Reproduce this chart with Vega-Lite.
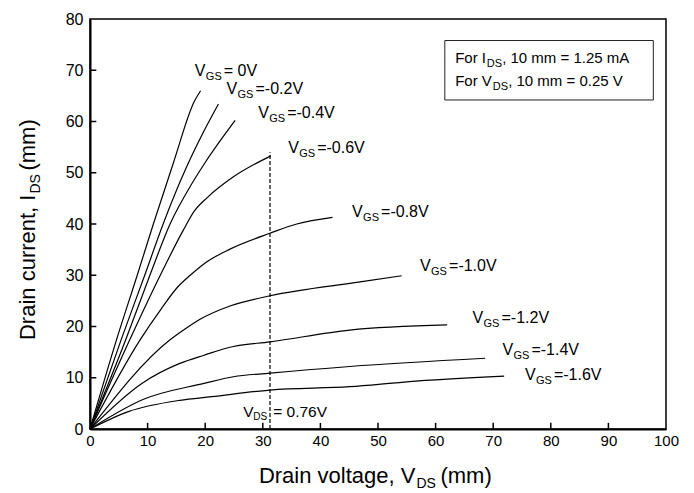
{
  "$schema": "https://vega.github.io/schema/vega-lite/v6.json",
  "width": 576,
  "height": 410,
  "autosize": {"type": "none"},
  "padding": {"left": 90, "top": 19, "right": 28, "bottom": 64},
  "background": "white",
  "config": {
    "view": {"stroke": "black", "strokeWidth": 1.5},
    "axis": {
      "grid": false,
      "domainColor": "black",
      "domainWidth": 2,
      "ticks": false,
      "labelColor": "black",
      "labelFont": "Liberation Sans",
      "labelFlush": false,
      "labelOverlap": false,
      "title": null
    }
  },
  "datasets": {
    "curves": [
      {"vgs": "0V", "x": 0, "y": 0}, {"vgs": "0V", "x": 4.6, "y": 17.4}, {"vgs": "0V", "x": 8.2, "y": 30}, {"vgs": "0V", "x": 11.0, "y": 40}, {"vgs": "0V", "x": 14.5, "y": 52}, {"vgs": "0V", "x": 18.1, "y": 63.9}, {"vgs": "0V", "x": 19.2, "y": 66.0},
      {"vgs": "-0.2V", "x": 0, "y": 0}, {"vgs": "-0.2V", "x": 5.4, "y": 17.4}, {"vgs": "-0.2V", "x": 9.5, "y": 30}, {"vgs": "-0.2V", "x": 12.7, "y": 40}, {"vgs": "-0.2V", "x": 16.8, "y": 51.2}, {"vgs": "-0.2V", "x": 19.5, "y": 57.5}, {"vgs": "-0.2V", "x": 22.3, "y": 63.4},
      {"vgs": "-0.4V", "x": 0, "y": 0}, {"vgs": "-0.4V", "x": 6.2, "y": 17.4}, {"vgs": "-0.4V", "x": 10.4, "y": 30}, {"vgs": "-0.4V", "x": 13.9, "y": 40}, {"vgs": "-0.4V", "x": 17.7, "y": 47.9}, {"vgs": "-0.4V", "x": 20.0, "y": 52.0}, {"vgs": "-0.4V", "x": 25.2, "y": 60.2},
      {"vgs": "-0.6V", "x": 0, "y": 0}, {"vgs": "-0.6V", "x": 6.9, "y": 17.4}, {"vgs": "-0.6V", "x": 12.2, "y": 30}, {"vgs": "-0.6V", "x": 16.2, "y": 38.8}, {"vgs": "-0.6V", "x": 18.1, "y": 42.5}, {"vgs": "-0.6V", "x": 20.4, "y": 45.2}, {"vgs": "-0.6V", "x": 24.9, "y": 49.2}, {"vgs": "-0.6V", "x": 31.4, "y": 53.3},
      {"vgs": "-0.8V", "x": 0, "y": 0}, {"vgs": "-0.8V", "x": 8.7, "y": 17.4}, {"vgs": "-0.8V", "x": 12.4, "y": 23.5}, {"vgs": "-0.8V", "x": 15.3, "y": 27.8}, {"vgs": "-0.8V", "x": 17.4, "y": 30}, {"vgs": "-0.8V", "x": 20, "y": 32.4}, {"vgs": "-0.8V", "x": 24.3, "y": 35.1}, {"vgs": "-0.8V", "x": 31.25, "y": 38.2}, {"vgs": "-0.8V", "x": 35.9, "y": 40.0}, {"vgs": "-0.8V", "x": 42.1, "y": 41.3},
      {"vgs": "-1.0V", "x": 0, "y": 0}, {"vgs": "-1.0V", "x": 13.9, "y": 17.4}, {"vgs": "-1.0V", "x": 16.5, "y": 19.5}, {"vgs": "-1.0V", "x": 19.1, "y": 21.4}, {"vgs": "-1.0V", "x": 24.3, "y": 24.0}, {"vgs": "-1.0V", "x": 31.25, "y": 26.0}, {"vgs": "-1.0V", "x": 46.9, "y": 28.7}, {"vgs": "-1.0V", "x": 54.1, "y": 29.9},
      {"vgs": "-1.2V", "x": 0, "y": 0}, {"vgs": "-1.2V", "x": 9.0, "y": 8.9}, {"vgs": "-1.2V", "x": 15.6, "y": 12.8}, {"vgs": "-1.2V", "x": 19.8, "y": 14.4}, {"vgs": "-1.2V", "x": 24.9, "y": 16.1}, {"vgs": "-1.2V", "x": 31.25, "y": 17.0}, {"vgs": "-1.2V", "x": 45.1, "y": 19.3}, {"vgs": "-1.2V", "x": 62.0, "y": 20.3},
      {"vgs": "-1.4V", "x": 0, "y": 0}, {"vgs": "-1.4V", "x": 9.3, "y": 5.8}, {"vgs": "-1.4V", "x": 19.8, "y": 8.9}, {"vgs": "-1.4V", "x": 24.9, "y": 10.2}, {"vgs": "-1.4V", "x": 31.25, "y": 10.9}, {"vgs": "-1.4V", "x": 45.1, "y": 12.2}, {"vgs": "-1.4V", "x": 68.6, "y": 13.8},
      {"vgs": "-1.6V", "x": 0, "y": 0}, {"vgs": "-1.6V", "x": 6.65, "y": 3.4}, {"vgs": "-1.6V", "x": 15.6, "y": 5.6}, {"vgs": "-1.6V", "x": 21.1, "y": 6.3}, {"vgs": "-1.6V", "x": 31.25, "y": 7.6}, {"vgs": "-1.6V", "x": 45.1, "y": 8.25}, {"vgs": "-1.6V", "x": 55, "y": 9.2}, {"vgs": "-1.6V", "x": 71.9, "y": 10.3}
    ],
    "labels": [
      {"x": 18.2, "y": 68.9, "rest": "= 0V"},
      {"x": 23.7, "y": 65.3, "rest": "=-0.2V"},
      {"x": 29.2, "y": 60.6, "rest": "=-0.4V"},
      {"x": 34.4, "y": 53.8, "rest": "=-0.6V"},
      {"x": 45.5, "y": 41.4, "rest": "=-0.8V"},
      {"x": 57.3, "y": 30.8, "rest": "=-1.0V"},
      {"x": 66.4, "y": 20.6, "rest": "=-1.2V"},
      {"x": 71.6, "y": 14.4, "rest": "=-1.4V"},
      {"x": 75.5, "y": 9.6, "rest": "=-1.6V"}
    ],
    "xticks": [{"x": 10}, {"x": 20}, {"x": 30}, {"x": 40}, {"x": 50}, {"x": 60}, {"x": 70}, {"x": 80}, {"x": 90}],
    "yticks": [{"y": 10}, {"y": 20}, {"y": 30}, {"y": 40}, {"y": 50}, {"y": 60}, {"y": 70}]
  },
  "layer": [
    {
      "data": {"name": "curves"},
      "mark": {"type": "line", "color": "black", "strokeWidth": 1.2, "interpolate": "monotone"},
      "encoding": {
        "x": {"field": "x", "type": "quantitative", "scale": {"domain": [0, 100], "nice": false, "zero": false},
              "axis": {"values": [0, 10, 20, 30, 40, 50, 60, 70, 80, 90, 100], "labelFontSize": 15, "labelPadding": 4}},
        "y": {"field": "y", "type": "quantitative", "scale": {"domain": [0, 80], "nice": false, "zero": false},
              "axis": {"values": [0, 10, 20, 30, 40, 50, 60, 70, 80], "labelFontSize": 16, "labelPadding": 7}},
        "detail": {"field": "vgs"}
      }
    },
    {
      "data": {"name": "xticks"},
      "mark": {"type": "rule", "color": "black", "strokeWidth": 1.5},
      "encoding": {
        "x": {"field": "x", "type": "quantitative", "scale": {"domain": [0, 100], "nice": false}},
        "y": {"datum": 0, "type": "quantitative", "scale": {"domain": [0, 80], "nice": false}},
        "y2": {"datum": 1.2}
      }
    },
    {
      "data": {"name": "yticks"},
      "mark": {"type": "rule", "color": "black", "strokeWidth": 1.5},
      "encoding": {
        "y": {"field": "y", "type": "quantitative", "scale": {"domain": [0, 80], "nice": false}},
        "x": {"datum": 0, "type": "quantitative", "scale": {"domain": [0, 100], "nice": false}},
        "x2": {"datum": 1.1}
      }
    },
    {
      "data": {"values": [{"x": 31.25, "y": 0, "y2": 54}]},
      "mark": {"type": "rule", "color": "black", "strokeWidth": 1.2, "strokeDash": [4, 2]},
      "encoding": {
        "x": {"field": "x", "type": "quantitative", "scale": {"domain": [0, 100], "nice": false}},
        "y": {"field": "y", "type": "quantitative", "scale": {"domain": [0, 80], "nice": false}},
        "y2": {"field": "y2"}
      }
    },
    {
      "data": {"values": [{"x": 61.6, "x2": 97.8, "y": 64.2, "y2": 75.8}]},
      "mark": {"type": "rect", "fill": "white", "stroke": "#222", "strokeWidth": 1},
      "encoding": {
        "x": {"field": "x", "type": "quantitative", "scale": {"domain": [0, 100], "nice": false}},
        "x2": {"field": "x2"},
        "y": {"field": "y", "type": "quantitative", "scale": {"domain": [0, 80], "nice": false}},
        "y2": {"field": "y2"}
      }
    },
    {
      "data": {"name": "labels"},
      "mark": {"type": "text", "align": "left", "baseline": "alphabetic", "font": "Liberation Sans", "fontSize": 16, "color": "black"},
      "encoding": {
        "x": {"field": "x", "type": "quantitative", "scale": {"domain": [0, 100], "nice": false}},
        "y": {"field": "y", "type": "quantitative", "scale": {"domain": [0, 80], "nice": false}},
        "text": {"value": "V"}
      }
    },
    {
      "data": {"name": "labels"},
      "mark": {"type": "text", "align": "left", "baseline": "alphabetic", "font": "Liberation Sans", "fontSize": 11, "dx": 11, "dy": 4, "color": "black"},
      "encoding": {
        "x": {"field": "x", "type": "quantitative", "scale": {"domain": [0, 100], "nice": false}},
        "y": {"field": "y", "type": "quantitative", "scale": {"domain": [0, 80], "nice": false}},
        "text": {"value": "GS"}
      }
    },
    {
      "data": {"name": "labels"},
      "mark": {"type": "text", "align": "left", "baseline": "alphabetic", "font": "Liberation Sans", "fontSize": 16, "dx": 29, "color": "black"},
      "encoding": {
        "x": {"field": "x", "type": "quantitative", "scale": {"domain": [0, 100], "nice": false}},
        "y": {"field": "y", "type": "quantitative", "scale": {"domain": [0, 80], "nice": false}},
        "text": {"field": "rest"}
      }
    },
    {
      "data": {"values": [{"x": 26.6, "y": 2.4, "a": "V", "b": "DS", "c": "= 0.76V"}]},
      "encoding": {
        "x": {"field": "x", "type": "quantitative", "scale": {"domain": [0, 100], "nice": false}},
        "y": {"field": "y", "type": "quantitative", "scale": {"domain": [0, 80], "nice": false}}
      },
      "layer": [
        {"mark": {"type": "text", "align": "left", "baseline": "alphabetic", "font": "Liberation Sans", "fontSize": 15.5, "color": "black"}, "encoding": {"text": {"field": "a"}}},
        {"mark": {"type": "text", "align": "left", "baseline": "alphabetic", "font": "Liberation Sans", "fontSize": 10, "dx": 10, "dy": 3, "color": "black"}, "encoding": {"text": {"field": "b"}}},
        {"mark": {"type": "text", "align": "left", "baseline": "alphabetic", "font": "Liberation Sans", "fontSize": 15.5, "dx": 30, "color": "black"}, "encoding": {"text": {"field": "c"}}}
      ]
    },
    {
      "data": {"values": [{"x": 63.4, "y": 71.36, "a": "For I", "b": "DS", "c": ", 10 mm = 1.25 mA"}]},
      "encoding": {
        "x": {"field": "x", "type": "quantitative", "scale": {"domain": [0, 100], "nice": false}},
        "y": {"field": "y", "type": "quantitative", "scale": {"domain": [0, 80], "nice": false}}
      },
      "layer": [
        {"mark": {"type": "text", "align": "left", "baseline": "alphabetic", "font": "Liberation Sans", "fontSize": 15, "color": "black"}, "encoding": {"text": {"field": "a"}}},
        {"mark": {"type": "text", "align": "left", "baseline": "alphabetic", "font": "Liberation Sans", "fontSize": 11, "dx": 31.5, "dy": 4, "color": "black"}, "encoding": {"text": {"field": "b"}}},
        {"mark": {"type": "text", "align": "left", "baseline": "alphabetic", "font": "Liberation Sans", "fontSize": 15, "dx": 47, "color": "black"}, "encoding": {"text": {"field": "c"}}}
      ]
    },
    {
      "data": {"values": [{"x": 63.4, "y": 66.93, "a": "For V", "b": "DS", "c": ", 10 mm = 0.25 V"}]},
      "encoding": {
        "x": {"field": "x", "type": "quantitative", "scale": {"domain": [0, 100], "nice": false}},
        "y": {"field": "y", "type": "quantitative", "scale": {"domain": [0, 80], "nice": false}}
      },
      "layer": [
        {"mark": {"type": "text", "align": "left", "baseline": "alphabetic", "font": "Liberation Sans", "fontSize": 15, "color": "black"}, "encoding": {"text": {"field": "a"}}},
        {"mark": {"type": "text", "align": "left", "baseline": "alphabetic", "font": "Liberation Sans", "fontSize": 11, "dx": 37.5, "dy": 4, "color": "black"}, "encoding": {"text": {"field": "b"}}},
        {"mark": {"type": "text", "align": "left", "baseline": "alphabetic", "font": "Liberation Sans", "fontSize": 15, "dx": 53, "color": "black"}, "encoding": {"text": {"field": "c"}}}
      ]
    },
    {
      "data": {"values": [{"x": 56.5, "y": -10.6, "a": "Drain voltage, V", "b": "DS", "c": "(mm)"}]},
      "encoding": {
        "x": {"field": "x", "type": "quantitative", "scale": {"domain": [0, 100], "nice": false}},
        "y": {"field": "y", "type": "quantitative", "scale": {"domain": [0, 80], "nice": false}}
      },
      "layer": [
        {"mark": {"type": "text", "align": "right", "baseline": "alphabetic", "font": "Liberation Sans", "fontSize": 22, "color": "black"}, "encoding": {"text": {"field": "a"}}},
        {"mark": {"type": "text", "align": "left", "baseline": "alphabetic", "font": "Liberation Sans", "fontSize": 14, "dx": 1, "dy": 5, "color": "black"}, "encoding": {"text": {"field": "b"}}},
        {"mark": {"type": "text", "align": "left", "baseline": "alphabetic", "font": "Liberation Sans", "fontSize": 22, "dx": 25, "color": "black"}, "encoding": {"text": {"field": "c"}}}
      ]
    },
    {
      "data": {"values": [{"x": -9.55, "y": 45.75, "a": "Drain current, I", "b": "DS", "c": "(mm)"}]},
      "encoding": {
        "x": {"field": "x", "type": "quantitative", "scale": {"domain": [0, 100], "nice": false}},
        "y": {"field": "y", "type": "quantitative", "scale": {"domain": [0, 80], "nice": false}}
      },
      "layer": [
        {"mark": {"type": "text", "angle": 270, "align": "right", "baseline": "alphabetic", "font": "Liberation Sans", "fontSize": 22, "color": "black"}, "encoding": {"text": {"field": "a"}}},
        {"mark": {"type": "text", "angle": 270, "align": "left", "baseline": "alphabetic", "font": "Liberation Sans", "fontSize": 14, "dx": 1, "dy": 5, "color": "black"}, "encoding": {"text": {"field": "b"}}},
        {"mark": {"type": "text", "angle": 270, "align": "left", "baseline": "alphabetic", "font": "Liberation Sans", "fontSize": 22, "dx": 24, "color": "black"}, "encoding": {"text": {"field": "c"}}}
      ]
    }
  ]
}
